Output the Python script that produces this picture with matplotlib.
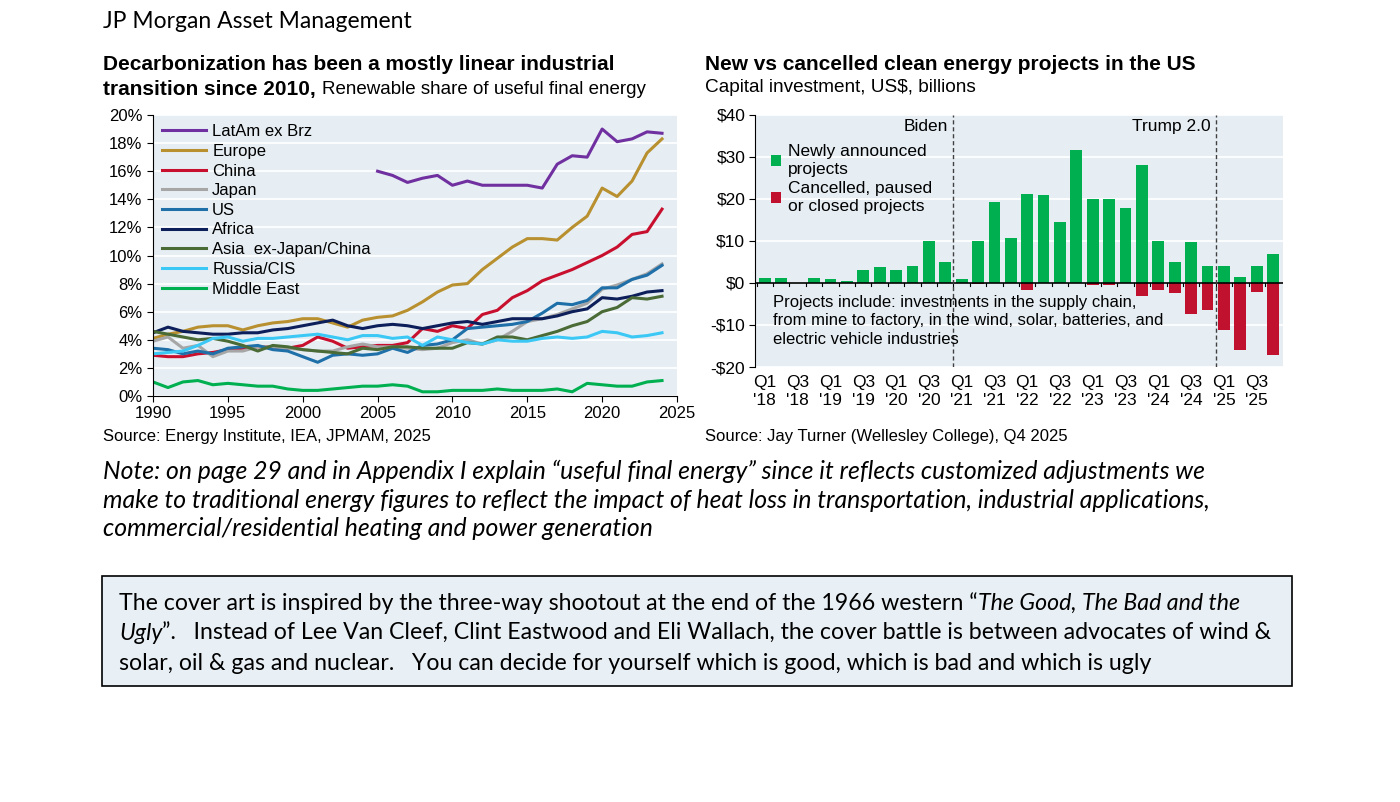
import numpy as np
import matplotlib.pyplot as plt
from matplotlib.patches import Rectangle

# ---- left chart: renewable share of useful final energy (%)
years = np.arange(1990, 2025)
latam_years = np.arange(2005, 2025)
latam = [16.0, 15.7, 15.2, 15.5, 15.7, 15.0, 15.3, 15.0, 15.0, 15.0, 15.0, 14.8, 16.5, 17.1, 17.0, 19.0, 18.1, 18.3, 18.8, 18.7]
europe = [4.1, 4.4, 4.6, 4.9, 5.0, 5.0, 4.7, 5.0, 5.2, 5.3, 5.5, 5.5, 5.2, 4.9, 5.4, 5.6, 5.7, 6.1, 6.7, 7.4, 7.9, 8.0, 9.0, 9.8, 10.6, 11.2, 11.2, 11.1, 12.0, 12.8, 14.8, 14.2, 15.3, 17.3, 18.3]
china = [2.9, 2.8, 2.8, 3.0, 3.1, 3.3, 3.4, 3.5, 3.5, 3.4, 3.6, 4.2, 3.9, 3.4, 3.5, 3.6, 3.6, 3.8, 4.8, 4.6, 5.0, 4.8, 5.8, 6.1, 7.0, 7.5, 8.2, 8.6, 9.0, 9.5, 10.0, 10.6, 11.5, 11.7, 13.3]
japan = [3.9, 4.2, 3.4, 3.6, 2.8, 3.2, 3.2, 3.5, 3.5, 3.4, 3.3, 3.2, 3.2, 3.5, 3.7, 3.5, 3.5, 3.4, 3.3, 3.4, 3.8, 4.0, 3.7, 4.0, 4.6, 5.3, 5.5, 5.8, 6.2, 6.6, 7.6, 7.9, 8.3, 8.7, 9.4]
us = [3.4, 3.3, 3.0, 3.2, 3.0, 3.4, 3.5, 3.6, 3.3, 3.2, 2.8, 2.4, 2.9, 3.0, 2.9, 3.0, 3.4, 3.1, 3.6, 3.7, 4.0, 4.8, 4.9, 5.0, 5.1, 5.3, 5.9, 6.6, 6.5, 6.8, 7.7, 7.7, 8.3, 8.6, 9.3]
africa = [4.5, 4.9, 4.6, 4.5, 4.4, 4.4, 4.5, 4.5, 4.7, 4.8, 5.0, 5.2, 5.4, 5.0, 4.8, 5.0, 5.1, 5.0, 4.8, 5.0, 5.2, 5.3, 5.1, 5.3, 5.5, 5.5, 5.5, 5.7, 6.0, 6.2, 7.0, 6.9, 7.1, 7.4, 7.5]
asia = [4.6, 4.4, 4.2, 4.0, 4.1, 3.9, 3.6, 3.2, 3.6, 3.5, 3.3, 3.2, 3.1, 3.0, 3.4, 3.3, 3.5, 3.5, 3.4, 3.4, 3.4, 3.8, 3.7, 4.2, 4.2, 4.0, 4.3, 4.6, 5.0, 5.3, 6.0, 6.3, 7.0, 6.9, 7.1]
russia = [3.0, 3.1, 3.2, 3.6, 4.1, 4.2, 3.9, 4.1, 4.1, 4.2, 4.3, 4.4, 4.2, 4.0, 4.3, 4.3, 4.1, 4.2, 3.6, 4.2, 4.0, 3.8, 3.7, 4.0, 3.9, 3.9, 4.1, 4.2, 4.1, 4.2, 4.6, 4.5, 4.2, 4.3, 4.5]
mideast = [1.0, 0.6, 1.0, 1.1, 0.8, 0.9, 0.8, 0.7, 0.7, 0.5, 0.4, 0.4, 0.5, 0.6, 0.7, 0.7, 0.8, 0.7, 0.3, 0.3, 0.4, 0.4, 0.4, 0.5, 0.4, 0.4, 0.4, 0.5, 0.3, 0.9, 0.8, 0.7, 0.7, 1.0, 1.1]

# ---- right chart: clean energy projects, US$ bn per quarter (Q1'18 .. Q4'25)
quarters = [f"Q{q}\n'{y}" for y in range(18, 26) for q in range(1, 5)]
new_projects = [1.2, 1.3, 0, 1.1, 1.0, 0.5, 3.0, 3.8, 3.2, 4.0, 10.0, 5.0,
                1.0, 10.0, 19.2, 10.7, 21.3, 21.0, 14.5, 31.7, 20.0, 20.0, 17.9, 28.0,
                10.0, 5.0, 9.7, 4.0, 4.0, 1.5, 4.0, 7.0]
cancelled = [0, 0, 0, 0, 0, 0, 0, 0, 0, 0, 0, 0,
             0, -0.3, 0, 0, -1.7, 0, 0, 0, -0.5, -0.4, 0, -3.0,
             -1.7, -2.3, -7.3, -6.4, -11.3, -16.0, -2.1, -17.1]

BG = "#E6EEF4"
plt.rcParams['font.family'] = ['Liberation Sans', 'DejaVu Sans']

fig = plt.figure(figsize=(14, 8.02), dpi=100)
W, H = 1400, 802


def fx(px):
    return px / W


def fy(py):
    return 1 - py / H


def text_run(x_px, y_px, parts):
    # draw text pieces one after another on the same line
    renderer = fig.canvas.get_renderer()
    x = fx(x_px)
    for s, kw in parts:
        t = fig.text(x, fy(y_px), s, va="center", **kw)
        bb = t.get_window_extent(renderer)
        x = bb.x1 / W


fig.text(fx(103), fy(22), "JP Morgan Asset Management", fontsize=16.5,
         family="Lato", va="center")

# left chart
ax1 = fig.add_axes([fx(153), fy(396), 524 / W, 281 / H])
ax1.set_facecolor(BG)
series = [
    ("LatAm ex Brz", latam_years, latam, "#7030A0"),
    ("Europe", years, europe, "#B8902F"),
    ("China", years, china, "#C8102E"),
    ("Japan", years, japan, "#A6A6A6"),
    ("US", years, us, "#1F6FA8"),
    ("Africa", years, africa, "#0D1F5A"),
    ("Asia  ex-Japan/China", years, asia, "#4A6B36"),
    ("Russia/CIS", years, russia, "#3CC8F5"),
    ("Middle East", years, mideast, "#00B050"),
]
for name, xs, ys, col in series:
    ax1.plot(xs, ys, color=col, lw=2.2, label=name)
ax1.set_xlim(1990, 2025)
ax1.set_ylim(0, 20)
ax1.set_xticks(range(1990, 2026, 5))
ax1.set_yticks(range(0, 21, 2))
ax1.set_yticklabels([f"{v}%" for v in range(0, 21, 2)])
ax1.grid(axis="y", color="white", lw=1.2)
ax1.set_axisbelow(True)
for s in ["top", "right"]:
    ax1.spines[s].set_visible(False)
ax1.tick_params(labelsize=12, length=4, direction="out")
ax1.legend(loc="upper left", frameon=False, fontsize=12, handlelength=2.6,
           labelspacing=0.28, borderaxespad=0.15, handletextpad=0.4)

text_run(103, 64, [("Decarbonization has been a mostly linear industrial",
                    dict(fontsize=15, fontweight="bold"))])
text_run(103, 89, [("transition since 2010, ", dict(fontsize=15, fontweight="bold")),
                   ("Renewable share of useful final energy", dict(fontsize=13.5))])
fig.text(fx(103), fy(437), "Source: Energy Institute, IEA, JPMAM, 2025",
         fontsize=12, va="center")

# right chart
ax2 = fig.add_axes([fx(755), fy(367), 528 / W, 252 / H])
ax2.set_facecolor(BG)
x = np.arange(len(quarters))
ax2.bar(x, new_projects, width=0.72, color="#00B050", label="Newly announced\nprojects")
ax2.bar(x, cancelled, width=0.72, color="#C0112F", label="Cancelled, paused\nor closed projects")
ax2.axhline(0, color="black", lw=1.2)
ax2.set_xlim(-0.6, len(quarters) - 0.4)
ax2.set_ylim(-20, 40)
ax2.set_yticks(range(-20, 41, 10))
ax2.set_yticklabels([f"-${-v}" if v < 0 else f"${v}" for v in range(-20, 41, 10)])
ax2.set_xticks(x[::2])
ax2.set_xticklabels(quarters[::2])
ax2.grid(axis="y", color="white", lw=1.2)
ax2.set_axisbelow(True)
for s in ["top", "right", "bottom"]:
    ax2.spines[s].set_visible(False)
ax2.tick_params(labelsize=12.5, length=0, pad=6)
ax2.tick_params(axis="y", length=4, pad=3)
for xi in x:
    ax2.plot([xi - 0.5, xi - 0.5], [0, -0.6], color="black", lw=0.8)
for xv, name in [(11.5, "Biden"), (27.5, "Trump 2.0")]:
    ax2.axvline(xv, color="#404040", lw=1, ls=(0, (3, 2)))
    ax2.text(xv - 0.3, 37.3, name, ha="right", va="center", fontsize=12.5)
ax2.legend(loc="upper left", bbox_to_anchor=(0.0, 0.945), frameon=False, fontsize=12.5,
           handlelength=0.6, handleheight=0.6, handletextpad=0.4, labelspacing=0.25)
ax2.text(0.5, -9.0, "Projects include: investments in the supply chain,\n"
         "from mine to factory, in the wind, solar, batteries, and\n"
         "electric vehicle industries", fontsize=12, va="center", linespacing=1.3)

fig.text(fx(705), fy(64), "New vs cancelled clean energy projects in the US",
         fontsize=15, fontweight="bold", va="center")
fig.text(fx(705), fy(88), "Capital investment, US$, billions", fontsize=13.7,
         va="center")
fig.text(fx(705), fy(437), "Source: Jay Turner (Wellesley College), Q4 2025",
         fontsize=12, va="center")

# note
note = ("Note: on page 29 and in Appendix I explain \u201cuseful final energy\u201d since it reflects customized adjustments we\n"
        "make to traditional energy figures to reflect the impact of heat loss in transportation, industrial applications,\n"
        "commercial/residential heating and power generation")
fig.text(fx(103), fy(500), note, fontsize=17.8, family="Lato", style="italic",
         va="center", linespacing=1.3)

# box
fig.patches.append(Rectangle((fx(102), fy(686)), 1190 / W, 110 / H,
                             transform=fig.transFigure, facecolor="#E9F0F5",
                             edgecolor="black", lw=1.2))
box_kw = dict(fontsize=16.7, family="Lato")
box_it = dict(fontsize=16.7, family="Lato", style="italic")
text_run(119, 603, [("The cover art is inspired by the three-way shootout at the end of the 1966 western \u201c", box_kw),
                    ("The Good, The Bad and the", box_it)])
text_run(119, 633, [("Ugly", box_it),
                    ("\u201d.   Instead of Lee Van Cleef, Clint Eastwood and Eli Wallach, the cover battle is between advocates of wind &", box_kw)])
text_run(119, 663, [("solar, oil & gas and nuclear.   You can decide for yourself which is good, which is bad and which is ugly", box_kw)])

fig.savefig("out.png", dpi=100)
